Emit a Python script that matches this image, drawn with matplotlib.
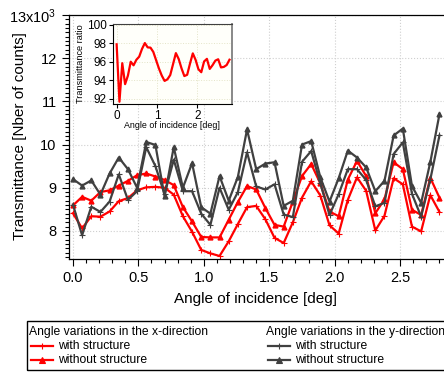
import numpy as np
import matplotlib
matplotlib.use("Agg")
import matplotlib.pyplot as plt
from matplotlib.ticker import MultipleLocator, FixedLocator, FixedFormatter
from matplotlib.patches import Rectangle
from matplotlib.lines import Line2D

plt.rcParams['font.family'] = ['Liberation Sans', 'DejaVu Sans']
plt.rcParams['mathtext.fontset'] = 'custom'
plt.rcParams['mathtext.rm'] = 'Liberation Sans'
plt.rcParams['mathtext.default'] = 'regular'

# angle of incidence [deg]
angle = [0.00, 0.07, 0.14, 0.21, 0.28, 0.35, 0.42, 0.49, 0.56, 0.63,
         0.70, 0.77, 0.84, 0.91, 0.98, 1.05, 1.12, 1.19, 1.26, 1.33,
         1.40, 1.47, 1.54, 1.61, 1.68, 1.75, 1.82, 1.89, 1.96, 2.03,
         2.10, 2.17, 2.24, 2.31, 2.38, 2.45, 2.52, 2.59, 2.66, 2.73, 2.80]

# counts, in thousands
x_with = [8.41, 8.06, 8.34, 8.33, 8.45, 8.69, 8.76, 8.94, 9.01, 9.02,
          9.00, 8.84, 8.34, 7.98, 7.56, 7.48, 7.42, 7.76, 8.16, 8.55,
          8.58, 8.27, 7.84, 7.72, 8.20, 8.77, 9.15, 8.82, 8.13, 7.94,
          8.72, 9.24, 8.93, 8.01, 8.35, 9.22, 9.08, 8.10, 7.99, 8.83, 8.44]
x_without = [8.59, 8.79, 8.70, 8.90, 8.94, 9.05, 9.16, 9.29, 9.33, 9.26,
             9.18, 9.06, 8.55, 8.22, 7.86, 7.85, 7.85, 8.26, 8.67, 9.04,
             8.96, 8.53, 8.14, 8.10, 8.68, 9.27, 9.55, 9.10, 8.45, 8.34,
             9.19, 9.62, 9.27, 8.41, 8.73, 9.59, 9.43, 8.49, 8.37, 9.23, 8.77]
y_with = [8.61, 7.90, 8.56, 8.44, 8.68, 9.31, 8.72, 8.92, 9.94, 9.50,
          8.85, 9.65, 8.92, 8.92, 8.40, 8.14, 9.00, 8.49, 8.90, 9.82,
          9.03, 8.96, 9.08, 8.38, 8.32, 9.60, 9.85, 9.10, 8.37, 8.85,
          9.43, 9.43, 9.18, 8.57, 8.65, 9.78, 10.05, 8.86, 8.33, 9.19, 10.21]
y_without = [9.20, 9.05, 9.17, 8.84, 9.33, 9.70, 9.43, 9.00, 10.06, 9.99,
             8.80, 9.94, 9.00, 9.57, 8.55, 8.40, 9.27, 8.70, 9.25, 10.35,
             9.43, 9.56, 9.59, 8.58, 8.70, 10.00, 10.08, 9.24, 8.68, 9.22,
             9.86, 9.70, 9.47, 8.92, 9.16, 10.21, 10.37, 9.04, 8.65, 9.59, 10.70]

y_ticks = [8, 9, 10, 11, 12, 13]
y_ticklabels = ['8', '9', '10', '11', '12', '13x10$^3$']

RED = '#ff0000'
DARK = '#404040'
W, H = 444, 373

fig = plt.figure(figsize=(W / 100, H / 100), dpi=100)
ax = fig.add_axes([68.5 / W, 1 - 259 / H, (446 - 68.5) / W, 244 / H])

ax.plot(angle, x_with, color=RED, lw=1.6, marker='+', ms=4, mew=0.8)
ax.plot(angle, x_without, color=RED, lw=1.6, marker='^', ms=3.5)
ax.plot(angle, y_with, color=DARK, lw=1.6, marker='+', ms=4, mew=0.8)
ax.plot(angle, y_without, color=DARK, lw=1.6, marker='^', ms=3.5)

ax.set_xlim(-0.034, 2.85)
ax.set_ylim(7.35, 13.0)
ax.xaxis.set_major_locator(MultipleLocator(0.5))
ax.xaxis.set_minor_locator(MultipleLocator(0.1))
ax.xaxis.set_major_formatter(plt.FormatStrFormatter('%.1f'))
ax.yaxis.set_major_locator(FixedLocator(y_ticks))
ax.yaxis.set_major_formatter(FixedFormatter(y_ticklabels))
ax.yaxis.set_minor_locator(MultipleLocator(0.1))
ax.tick_params(which='both', direction='out', width=0.8, labelsize=10.5, top=False, right=False)
ax.tick_params(which='major', length=5)
ax.tick_params(which='minor', length=3)
ax.grid(True, which='major', color='#cfcfcf', ls=':', lw=0.8)
ax.set_axisbelow(True)
for s in ax.spines.values():
    s.set_linewidth(0.9)

fig.text(255 / W, 1 - 299 / H, 'Angle of incidence [deg]', ha='center', va='center', fontsize=11)
fig.text(20 / W, 1 - 136 / H, 'Transmittance [Nber of counts]', ha='center', va='center',
         rotation=90, fontsize=11)

# inset: ratio with/without structure, x-direction
ratio = np.array(x_with) / np.array(x_without) * 100
ins = fig.add_axes([113 / W, 1 - 104 / H, 118.5 / W, 80 / H], facecolor='#fffffa')
ins.plot(angle, ratio, color=RED, lw=1.6)
ins.set_xlim(-0.09, 2.85)
ins.set_ylim(91.45, 100.1)
ins.set_xticks([0, 1, 2])
ins.set_yticks([92, 94, 96, 98, 100])
ins.tick_params(direction='out', length=3, width=0.8, labelsize=8.5, pad=1.5)
ins.grid(True, color='#e4e4c8', ls=':', lw=0.7)
ins.spines['top'].set_color('#404040')
ins.spines['right'].set_color('#888888')
ins.spines['right'].set_linewidth(1.4)
ins.set_xlabel('Angle of incidence [deg]', fontsize=6.4, labelpad=-1)
ins.set_ylabel('Transmittance ratio', fontsize=6.6, labelpad=1)

# legend box
fig.patches.append(Rectangle((27 / W, 3 / H), 425 / W, 49 / H, transform=fig.transFigure,
                             fill=False, ec='black', lw=1.0))
cols = [(29, 'Angle variations in the x-direction', RED),
        (266, 'Angle variations in the y-direction', DARK)]
for x0, head, c in cols:
    fig.text(x0 / W, 1 - 332 / H, head, ha='left', va='center', fontsize=8.7)
    for yy, mk, lab in [(346, '+', 'with structure'), (360, '^', 'without structure')]:
        fig.lines.append(Line2D([(x0 + 2) / W, (x0 + 24) / W], [1 - yy / H] * 2,
                                transform=fig.transFigure, color=c, lw=1.6))
        fig.lines.append(Line2D([(x0 + 13) / W], [1 - yy / H], transform=fig.transFigure,
                                color=c, marker=mk, ms=5 if mk == '+' else 4.5, mew=0.8))
        fig.text((x0 + 29) / W, 1 - yy / H, lab, ha='left', va='center', fontsize=8.7)

fig.savefig('out.png', dpi=100)
